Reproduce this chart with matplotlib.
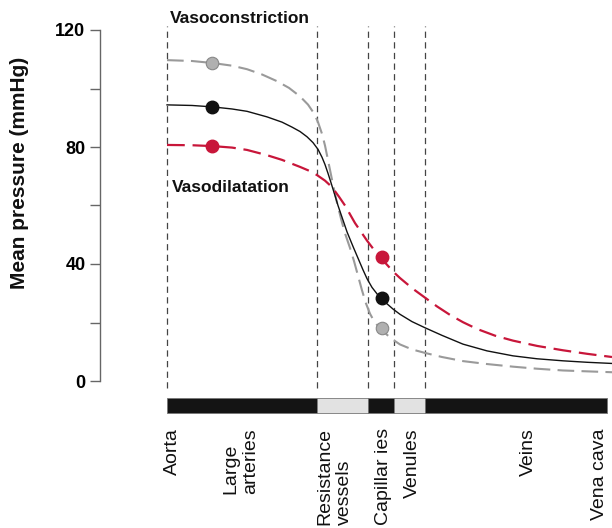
import matplotlib
matplotlib.use("Agg")
import matplotlib.pyplot as plt

plt.rcParams['font.family'] = ['Liberation Sans', 'DejaVu Sans']

# position along the circulation (arbitrary units) and mean pressure (mmHg)
constrict_x = [0, 25, 46, 65, 80, 95, 110, 122, 133, 141, 147, 151, 155, 158, 161, 164, 167, 170, 174, 178,
               183, 187, 191, 195, 199, 203, 207, 211, 215, 220, 226, 233, 245, 258, 275, 296, 320, 346, 370, 396, 420, 445]
constrict_p = [109.7, 109.4, 108.7, 107.8, 106.6, 104.8, 102.5, 100.2, 97.3, 94.5, 91.5, 88.5, 84.5, 80.5, 75.5, 70.5, 65.5, 61, 55.5, 50.5,
               45.5, 41, 36, 31, 26.5, 23, 20.5, 18.8, 17.5, 15.8, 14.1, 12.5, 10.8, 9.6, 8.2, 6.8, 5.8, 4.9, 4.2, 3.6, 3.3, 3.0]

normal_x = [0, 25, 46, 65, 80, 100, 115, 125, 133, 140, 146, 151, 155, 158, 161, 164, 167, 171, 175, 180,
            186, 191, 196, 200, 205, 210, 215, 220, 226, 233, 245, 258, 275, 296, 320, 346, 370, 396, 420, 445]
normal_p = [94.4, 94.2, 93.7, 93.0, 92.2, 90.3, 88.5, 86.8, 85.3, 83.5, 81.5, 79.2, 76.5, 74, 71, 67.8, 64.5, 60, 56, 51,
            46, 42, 38, 35, 32, 29.8, 28.0, 26.4, 24.6, 22.8, 20.3, 18.2, 15.6, 12.6, 10.3, 8.6, 7.6, 6.9, 6.4, 6.0]

dilate_x = [0, 25, 46, 65, 80, 100, 115, 133, 142, 150, 158, 165, 172, 178, 183, 188, 194, 200, 206, 213,
            218, 223, 228, 233, 240, 248, 258, 270, 283, 296, 310, 328, 346, 370, 396, 420, 445]
dilate_p = [80.7, 80.6, 80.3, 79.8, 79, 77.2, 75.6, 73.2, 71.9, 70.4, 68.5, 66.3, 63, 60, 57, 54, 51, 48, 45.3, 42.5,
            40.5, 38.6, 36.8, 35.2, 33.2, 31, 28.5, 25.5, 22.6, 20.1, 17.8, 15.5, 13.8, 12, 10.5, 9.3, 8.2]

marker_x = [45, 215]
constrict_marks = [108.7, 18]
normal_marks = [93.7, 28.4]
dilate_marks = [80.3, 42.4]

# vessel segments along the bar
boundaries = [0, 150, 201, 227, 258, 440]
segment_colors = ['#141414', '#e2e2e2', '#141414', '#e2e2e2', '#141414']

vessel_names = ['Aorta', 'Large\narteries', 'Resistance\nvessels', 'Capillar ies', 'Venules', 'Veins', 'Vena cava']
vessel_pos = [5, 74, 168, 216, 245, 361, 433]

red = '#c8163a'
gray = '#9a9a9a'

fig = plt.figure(figsize=(6.12, 5.28), dpi=100)
W, H = 612, 528
ppu = 351 / 120.0  # pixels per mmHg
y_lo, y_hi = -12, 125
bottom_px = 381 - y_lo * ppu
top_px = 381 - y_hi * ppu
ax = fig.add_axes([100 / W, (H - bottom_px) / H, 512 / W, (bottom_px - top_px) / H])
ax.set_xlim(-67, 445)
ax.set_ylim(y_lo, y_hi)

# vertical dashed separators
ax.vlines(boundaries[:-1], -2.5, 121.5, colors='#444444', linewidth=0.9,
          linestyles=(0, (5, 3.5)))

# pressure curves
ax.plot(constrict_x, constrict_p, color=gray, lw=1.5, dashes=(8, 3.5))
ax.plot(normal_x, normal_p, color='#111111', lw=1.0)
ax.plot(dilate_x, dilate_p, color=red, lw=1.6, dashes=(8, 3.5))

ax.plot(marker_x, constrict_marks, 'o', ms=9, mfc='#b0b0b0', mec='#888888', mew=0.8)
ax.plot(marker_x, normal_marks, 'o', ms=9, mfc='#111111', mec='#111111')
ax.plot(marker_x, dilate_marks, 'o', ms=9, mfc=red, mec=red)

# vessel bar
spans = [(boundaries[i], boundaries[i + 1] - boundaries[i]) for i in range(len(segment_colors))]
ax.broken_barh(spans, (-10.9, 5.1), facecolors=segment_colors, edgecolor='#777777', linewidth=0.6)

for name, xp in zip(vessel_names, vessel_pos):
    ax.text(xp, -16.1, name, rotation=90, ha='center', va='top', multialignment='left',
            fontsize=14, color='#111111')

ax.text(3, 124.1, 'Vasoconstriction', fontsize=12.5, fontweight='bold', va='center', color='#111111')
ax.text(5, 66.3, 'Vasodilatation', fontsize=12.5, fontweight='bold', va='center', color='#111111')

# axis styling
for side in ['top', 'right', 'bottom']:
    ax.spines[side].set_visible(False)
ax.spines['left'].set_bounds(0, 120)
ax.spines['left'].set_color('#666666')
ax.spines['left'].set_linewidth(1.0)
ax.set_xticks([])
ax.set_yticks([0, 40, 80, 120])
ax.set_yticks([20, 60, 100], minor=True)
ax.tick_params(axis='y', which='both', length=7, width=1.0, color='#666666', pad=3.5)
ax.tick_params(axis='y', which='major', labelsize=13)
for lab in ax.get_yticklabels():
    lab.set_fontweight('bold')

fig.text(20 / W, 1 - 173 / H, 'Mean pressure (mmHg)', rotation=90, ha='center', va='center',
         fontsize=15, fontweight='bold', color='#111111')

fig.savefig('out.png', dpi=100)
